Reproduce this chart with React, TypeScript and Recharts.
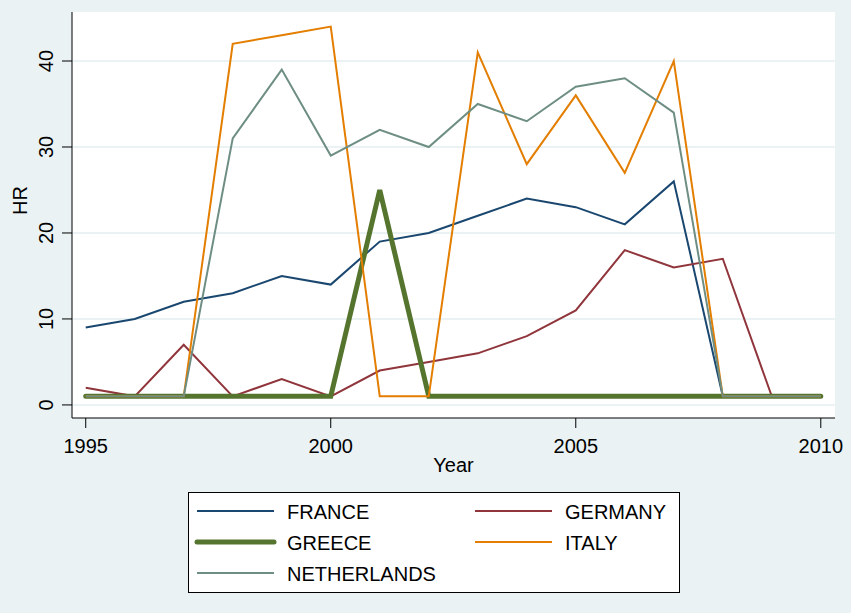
import React from "react";
import { LineChart, Line, XAxis, YAxis, CartesianGrid } from "recharts";

const years = [1995, 1996, 1997, 1998, 1999, 2000, 2001, 2002, 2003, 2004, 2005, 2006, 2007, 2008, 2009, 2010];
const france = [9, 10, 12, 13, 15, 14, 19, 20, 22, 24, 23, 21, 26, 1, 1, 1];
const germany = [2, 1, 7, 1, 3, 1, 4, 5, 6, 8, 11, 18, 16, 17, 1, 1];
const greece = [1, 1, 1, 1, 1, 1, 25, 1, 1, 1, 1, 1, 1, 1, 1, 1];
const italy = [1, 1, 1, 42, 43, 44, 1, 1, 41, 28, 36, 27, 40, 1, 1, 1];
const netherlands = [1, 1, 1, 31, 39, 29, 32, 30, 35, 33, 37, 38, 34, 1, 1, 1];
const xTicks = [1995, 2000, 2005, 2010];
const yTicks = [0, 10, 20, 30, 40];

const series = [
  { key: "FRANCE", values: france, color: "#1a476f", width: 2 },
  { key: "GERMANY", values: germany, color: "#90353b", width: 2 },
  { key: "GREECE", values: greece, color: "#55752f", width: 5 },
  { key: "ITALY", values: italy, color: "#e37e00", width: 2 },
  { key: "NETHERLANDS", values: netherlands, color: "#6e8e84", width: 2 },
];

const data = years.map((y, i) => {
  const row: any = { year: y };
  series.forEach((s) => (row[s.key] = s.values[i]));
  return row;
});

const FONT = "Arial, 'Liberation Sans', sans-serif";

const YTick = (props: any) => {
  const { y, payload } = props;
  return (
    <g>
      <line x1={62} x2={72} y1={y} y2={y} stroke="#000" strokeWidth={1} />
      <text
        x={53}
        y={y}
        transform={`rotate(-90 53 ${y})`}
        textAnchor="middle"
        fontSize={20}
        fontFamily={FONT}
        fill="#000"
      >
        {payload.value}
      </text>
    </g>
  );
};

const XTick = (props: any) => {
  const { x, payload } = props;
  return (
    <g>
      <line x1={x} x2={x} y1={418} y2={428} stroke="#000" strokeWidth={1} />
      <text x={x} y={453} textAnchor="middle" fontSize={20} fontFamily={FONT} fill="#000">
        {payload.value}
      </text>
    </g>
  );
};

const legendLayout = [
  { key: "FRANCE", col: 0, row: 0 },
  { key: "GERMANY", col: 1, row: 0 },
  { key: "GREECE", col: 0, row: 1 },
  { key: "ITALY", col: 1, row: 1 },
  { key: "NETHERLANDS", col: 0, row: 2 },
];

const LegendBox = () => (
  <svg width={492} height={101} style={{ display: "block" }}>
    <rect x={0.5} y={0.5} width={491} height={100} fill="#fff" stroke="#000" strokeWidth={1} />
    {legendLayout.map((l) => {
      const s = series.find((d) => d.key === l.key)!;
      const lx = l.col === 0 ? 9 : 287;
      const cy = 19 + l.row * 31;
      return (
        <g key={l.key}>
          <line
            x1={lx}
            x2={lx + 77}
            y1={cy}
            y2={cy}
            stroke={s.color}
            strokeWidth={s.width}
            strokeLinecap={s.width > 3 ? "round" : "butt"}
          />
          <text x={lx + 90} y={cy + 7.5} fontSize={20} fontFamily={FONT} fill="#000">
            {l.key}
          </text>
        </g>
      );
    })}
  </svg>
);

export default function App() {
  return (
    <div
      style={{
        position: "absolute",
        left: 0,
        top: 0,
        width: 851,
        height: 613,
        background: "#eaf2f3",
        fontFamily: FONT,
      }}
    >
      <LineChart
        width={851}
        height={613}
        data={data}
        margin={{ top: 12, right: 16, left: 12, bottom: 135 }}
      >
        <CartesianGrid
          vertical={false}
          horizontal={true}
          fill="#ffffff"
          stroke="#eaf2f3"
          strokeWidth={2}
          horizontalValues={yTicks}
        />
        <XAxis
          dataKey="year"
          type="number"
          domain={[1994.72, 2010.29]}
          ticks={xTicks}
          allowDataOverflow
          height={60}
          axisLine={{ stroke: "#000", strokeWidth: 1 }}
          tickLine={false}
          tick={<XTick />}
          interval={0}
          label={{
            value: "Year",
            position: "insideTop",
            offset: 40,
            fontSize: 20,
            fontFamily: FONT,
            fill: "#000",
          }}
        />
        <YAxis
          type="number"
          domain={[-1.52, 45.7]}
          ticks={yTicks}
          allowDataOverflow
          width={60}
          axisLine={{ stroke: "#000", strokeWidth: 1 }}
          tickLine={false}
          tick={<YTick />}
          interval={0}
          label={{
            value: "HR",
            angle: -90,
            position: "insideLeft",
            offset: 0,
            fontSize: 20,
            fontFamily: FONT,
            fill: "#000",
            dx: 8,
          }}
        />
        {series.map((s) => (
          <Line
            key={s.key}
            type="linear"
            dataKey={s.key}
            stroke={s.color}
            strokeWidth={s.width}
            strokeLinecap={s.width > 3 ? "round" : "butt"}
            dot={false}
            activeDot={false}
            isAnimationActive={false}
          />
        ))}
      </LineChart>
      <div style={{ position: "absolute", left: 188, top: 492 }}>
        <LegendBox />
      </div>
    </div>
  );
}
